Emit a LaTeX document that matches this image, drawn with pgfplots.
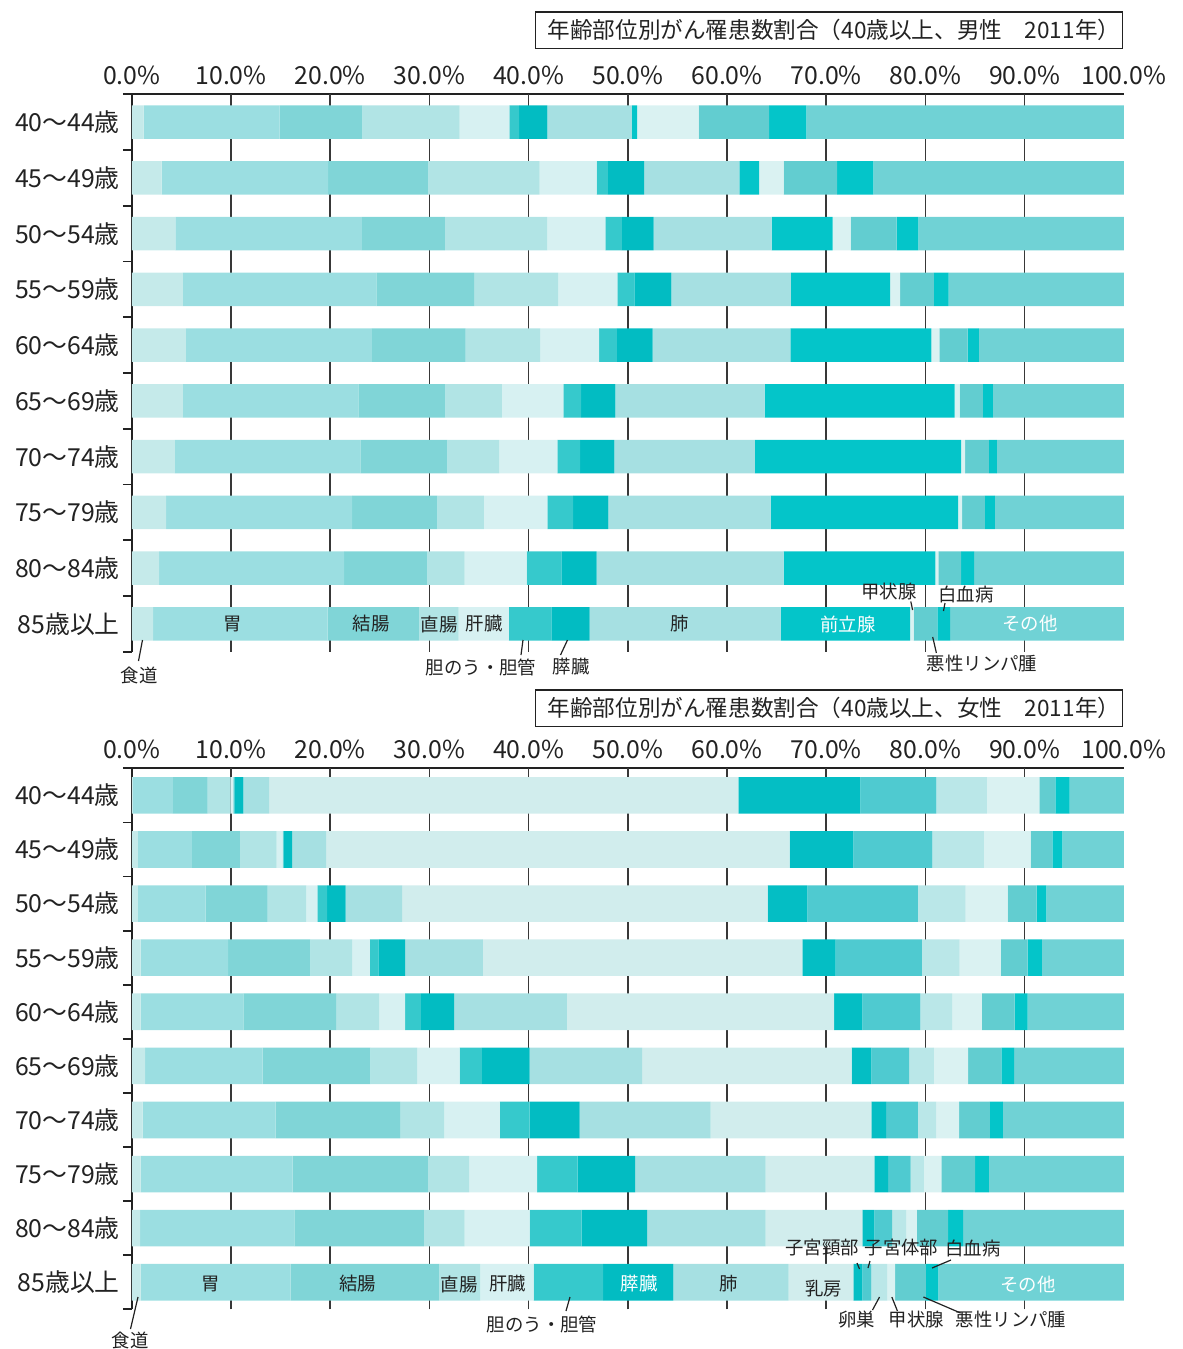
\documentclass[border=0pt]{standalone}
\usepackage{pgfplots}
\pgfplotsset{compat=1.18}
\usepackage{pgfplotstable}
\usepackage{fontspec}
\setmainfont{Noto Sans CJK JP}

\definecolor{cES}{HTML}{C5EAEA}
\definecolor{cST}{HTML}{9BDEE1}
\definecolor{cCO}{HTML}{80D5D7}
\definecolor{cRE}{HTML}{B1E4E5}
\definecolor{cLI}{HTML}{D7F1F2}
\definecolor{cGB}{HTML}{36C9CC}
\definecolor{cPA}{HTML}{02BCC2}
\definecolor{cLU}{HTML}{A6E0E2}
\definecolor{cPR}{HTML}{04C5C9}
\definecolor{cTH}{HTML}{DAF2F2}
\definecolor{cLY}{HTML}{62CDD0}
\definecolor{cLE}{HTML}{04C5C9}
\definecolor{cOT}{HTML}{70D2D5}
\definecolor{cBR}{HTML}{D1EDED}
\definecolor{cCX}{HTML}{04BEC4}
\definecolor{cUT}{HTML}{4FCAD0}
\definecolor{cOV}{HTML}{BAE7E8}
\definecolor{txt}{HTML}{222222}

% male: y es st co re li gb pa lu pr th ly le ot
\pgfplotstableread{
y es st co re li gb pa lu pr th ly le ot
9 1.2 13.7 8.35 9.8 5.0 1.0 2.85 8.5 0.55 6.2 7.1 3.75 32.0
8 3.0 16.8 10.1 11.2 5.75 1.15 3.65 9.6 2.0 2.45 5.4 3.65 25.25
7 4.4 18.8 8.35 10.35 5.85 1.65 3.2 11.9 6.15 1.8 4.65 2.2 20.7
6 5.15 19.5 9.85 8.5 5.95 1.7 3.75 12.05 10.0 1.0 3.4 1.5 17.65
5 5.45 18.75 9.45 7.5 5.95 1.8 3.6 13.9 14.2 0.8 2.85 1.15 14.6
4 5.15 17.7 8.75 5.7 6.2 1.8 3.45 15.05 19.15 0.5 2.35 1.0 13.2
3 4.35 18.7 8.75 5.25 5.85 2.3 3.45 14.15 20.8 0.4 2.4 0.8 12.8
2 3.45 18.75 8.6 4.7 6.4 2.6 3.55 16.35 18.9 0.4 2.3 1.0 13.0
1 2.75 18.65 8.4 3.75 6.25 3.5 3.55 18.85 15.3 0.3 2.3 1.3 15.1
0 2.15 17.6 9.25 3.95 5.05 4.3 3.85 19.25 13.05 0.35 2.4 1.3 17.5
}\male

% female: y es st co re li gb pa lu br cx ut ov th ly le ot
\pgfplotstableread{
y es st co re li gb pa lu br cx ut ov th ly le ot
9 0.1 4.05 3.5 2.3 0.3 0.1 0.9 2.6 47.3 12.3 7.65 5.1 5.3 1.6 1.45 5.45
8 0.6 5.45 4.85 3.7 0.6 0.1 0.85 3.45 46.7 6.45 7.95 5.2 4.7 2.2 1.0 6.2
7 0.6 6.85 6.25 3.9 1.1 1.0 1.85 5.7 36.85 4.0 11.15 4.8 4.25 2.9 1.0 7.8
6 0.9 8.8 8.3 4.2 1.8 0.85 2.7 7.85 32.2 3.35 8.7 3.8 4.15 2.7 1.45 8.25
5 0.9 10.35 9.35 4.35 2.6 1.6 3.35 11.35 26.95 2.85 5.85 3.2 3.0 3.3 1.3 9.7
4 1.35 11.85 10.85 4.7 4.3 2.25 4.8 11.35 21.1 2.0 3.8 2.5 3.45 3.35 1.3 11.05
3 1.1 13.4 12.55 4.45 5.6 3.0 5.05 13.2 16.2 1.5 3.2 1.85 2.3 3.1 1.3 12.2
2 0.9 15.3 13.65 4.15 6.85 4.1 5.8 13.15 10.95 1.4 2.25 1.35 1.75 3.4 1.4 13.6
1 0.85 15.55 13.05 4.1 6.55 5.25 6.6 11.95 9.75 1.2 1.8 1.4 1.1 3.15 1.5 16.2
0 0.9 15.1 15.0 4.15 5.35 7.0 7.1 11.6 6.55 0.9 0.9 1.6 0.8 3.1 1.25 18.7
}\female

\pgfplotsset{
  cancer/.style={
    xbar stacked, scale only axis, width=496pt,
    xmin=0, xmax=100, ymin=-0.5, ymax=9.5,
    axis x line*=top, axis y line*=left,
    axis line style={line width=0.9pt, txt},
    xtick={0,10,...,100},
    xticklabels={0.0\%,10.0\%,20.0\%,30.0\%,40.0\%,50.0\%,60.0\%,70.0\%,80.0\%,90.0\%,100.0\%},
    extra x ticks={10,20,...,90}, extra x tick labels={},
    extra x tick style={grid=major},
    grid style={line width=0.8pt, txt!90},
    ytick={0,...,9},
    yticklabels={85歳以上,80～84歳,75～79歳,70～74歳,65～69歳,60～64歳,55～59歳,50～54歳,45～49歳,40～44歳},
    minor ytick={-0.5,0.5,...,9.5},
    major tick length=0pt, minor tick length=4.5pt,
    ytick align=outside,
    tick style={line width=0.9pt, txt},
    tick label style={font=\fontsize{12.4pt}{14pt}\selectfont, text=txt},
    xticklabel style={yshift=1pt},
    yticklabel style={xshift=-2.5pt},
    every axis plot/.append style={draw=none},
  }
}

\begin{document}
\begin{tikzpicture}
\begin{scope}[x=0.5pt,y=-0.5pt]
\useasboundingbox (0,0) rectangle (1183,1349);
\end{scope}

% ---------------- male ----------------
\begin{axis}[cancer, at={(65.9pt,-47.15pt)}, anchor=north west, height=278.7pt, bar width=16.7pt]
\addplot[fill=cES] table[x=es,y=y]{\male};
\addplot[fill=cST] table[x=st,y=y]{\male};
\addplot[fill=cCO] table[x=co,y=y]{\male};
\addplot[fill=cRE] table[x=re,y=y]{\male};
\addplot[fill=cLI] table[x=li,y=y]{\male};
\addplot[fill=cGB] table[x=gb,y=y]{\male};
\addplot[fill=cPA] table[x=pa,y=y]{\male};
\addplot[fill=cLU] table[x=lu,y=y]{\male};
\addplot[fill=cPR] table[x=pr,y=y]{\male};
\addplot[fill=cTH] table[x=th,y=y]{\male};
\addplot[fill=cLY] table[x=ly,y=y]{\male};
\addplot[fill=cLE] table[x=le,y=y]{\male};
\addplot[fill=cOT] table[x=ot,y=y]{\male};
\end{axis}

% ---------------- female ----------------
\begin{axis}[cancer, at={(65.9pt,-384.15pt)}, anchor=north west, height=270.5pt, bar width=18.3pt]
\addplot[fill=cES] table[x=es,y=y]{\female};
\addplot[fill=cST] table[x=st,y=y]{\female};
\addplot[fill=cCO] table[x=co,y=y]{\female};
\addplot[fill=cRE] table[x=re,y=y]{\female};
\addplot[fill=cLI] table[x=li,y=y]{\female};
\addplot[fill=cGB] table[x=gb,y=y]{\female};
\addplot[fill=cPA] table[x=pa,y=y]{\female};
\addplot[fill=cLU] table[x=lu,y=y]{\female};
\addplot[fill=cBR] table[x=br,y=y]{\female};
\addplot[fill=cCX] table[x=cx,y=y]{\female};
\addplot[fill=cUT] table[x=ut,y=y]{\female};
\addplot[fill=cOV] table[x=ov,y=y]{\female};
\addplot[fill=cTH] table[x=th,y=y]{\female};
\addplot[fill=cLY] table[x=ly,y=y]{\female};
\addplot[fill=cLE] table[x=le,y=y]{\female};
\addplot[fill=cOT] table[x=ot,y=y]{\female};
\end{axis}

\begin{scope}[x=0.5pt,y=-0.5pt,
  lb/.style={font=\fontsize{9.2pt}{11pt}\selectfont, text=txt, inner sep=0pt},
  wb/.style={font=\fontsize{9.2pt}{11pt}\selectfont, text=white, inner sep=0pt},
  ln/.style={line width=0.6pt, txt},
  ttl/.style={font=\fontsize{11.3pt}{13pt}\selectfont, text=txt, inner sep=0pt}]
% titles
\draw[txt, line width=0.8pt] (535.5,11.7) rectangle (1122.3,48.3);
\node[ttl] at (834,30) {年齢部位別がん罹患数割合（40歳以上、男性　2011年）};
\draw[txt, line width=0.8pt] (535.5,689.7) rectangle (1122.3,726.3);
\node[ttl] at (834,708) {年齢部位別がん罹患数割合（40歳以上、女性　2011年）};

% male 85+ labels
\node[lb] at (233,624) {胃};
\node[lb] at (371,624) {結腸};
\node[lb] at (439,624) {直腸};
\node[lb] at (484,624) {肝臓};
\node[lb] at (680,624) {肺};
\node[wb] at (848,624) {前立腺};
\node[wb] at (1030,624) {その他};
\node[lb] at (139,675) {食道};
\draw[ln] (142.5,640) -- (138.5,661);
\node[lb] at (481,667) {胆のう・胆管};
\draw[ln] (523,640) -- (521,655);
\node[lb] at (571,667) {膵臓};
\draw[ln] (567.5,640) -- (560.5,655);
\node[lb] at (889,592) {甲状腺};
\draw[ln] (910.8,601.5) -- (912.6,610);
\node[lb] at (966,594) {白血病};
\draw[ln] (945,603) -- (943.5,611);
\node[lb] at (982,664) {悪性リンパ腫};
\draw[ln] (932.7,637) -- (936.4,653);

% female 85+ labels
\node[lb] at (210.6,1284) {胃};
\node[lb] at (357.6,1284) {結腸};
\node[lb] at (459,1284) {直腸};
\node[lb] at (507.6,1284) {肝臓};
\node[wb] at (639,1284) {膵臓};
\node[lb] at (729,1284) {肺};
\node[lb] at (823.4,1289) {乳房};
\node[wb] at (1028,1284) {その他};
\node[lb] at (130,1340) {食道};
\draw[ln] (138,1297) -- (130.5,1329);
\node[lb] at (542,1324) {胆のう・胆管};
\draw[ln] (570,1297) -- (566,1311);
\node[lb] at (822,1248) {子宮頸部};
\draw[ln] (857,1263) -- (859.5,1269);
\node[lb] at (901.5,1248) {子宮体部};
\draw[ln] (870,1261) -- (868,1268);
\node[lb] at (973,1248) {白血病};
\draw[ln] (951,1260) -- (932,1268);
\node[lb] at (856.5,1320) {卵巣};
\draw[ln] (879.5,1297) -- (872.5,1310);
\node[lb] at (916.5,1320) {甲状腺};
\draw[ln] (891.8,1297) -- (897.4,1311);
\node[lb] at (1011,1320) {悪性リンパ腫};
\draw[ln] (923.4,1297) -- (960.6,1313);
\end{scope}
\end{tikzpicture}
\end{document}
